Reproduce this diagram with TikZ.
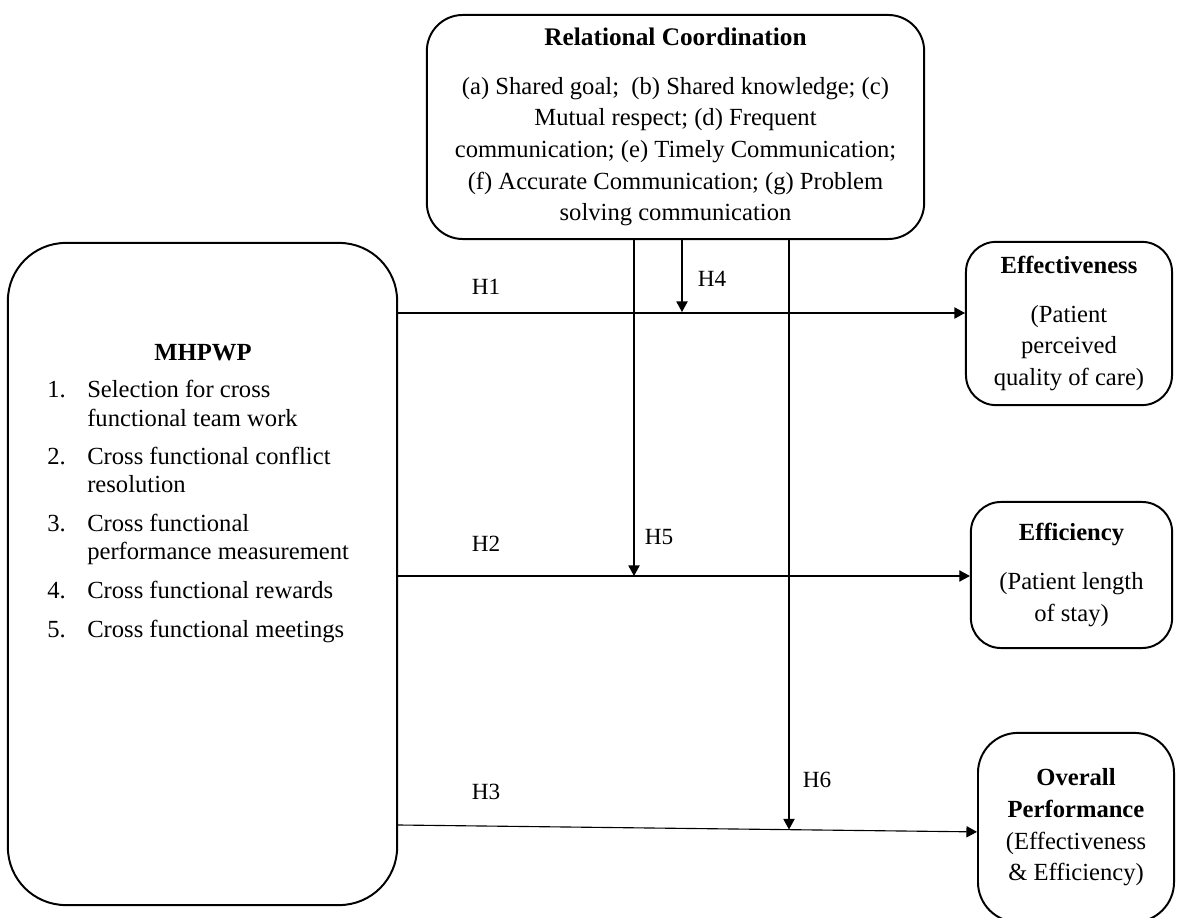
\documentclass[tikz,border=0pt]{standalone}
\usepackage{fontspec}
\setmainfont{Liberation Serif}
\usetikzlibrary{arrows.meta, positioning}
\newcommand{\mainsz}{\fontsize{17.5}{22.5}\selectfont}
\newcommand{\listsz}{\fontsize{17.5}{20}\selectfont}

\begin{document}
\begin{tikzpicture}[
    x=0.025cm, y=-0.025cm,
    box/.style={rectangle, draw, line width=1.4pt, rounded corners=#1, align=center, font=\mainsz},
    box/.default=0.8cm,
    arrow/.style={line width=0.8pt, -{Triangle[length=7.5pt, width=8pt]}},
    hyp/.style={font=\fontsize{16.5}{20}\selectfont}
]
    \useasboundingbox (0,0) rectangle (1178,918);

    % mediator on top
    \node [box=0.9cm, minimum width=12.43cm, minimum height=5.6cm] (rc) at (675.5,127) {{\fontsize{18}{22.5}\selectfont\textbf{Relational Coordination}}\\[12pt]
        (a) Shared goal;~ (b) Shared knowledge; (c)\\
        Mutual respect; (d) Frequent\\
        communication; (e) Timely Communication;\\
        (f) Accurate Communication; (g) Problem\\
        solving communication};

    % practices on the left
    \node [box=1.45cm, minimum width=9.73cm, minimum height=16.55cm] (mh) at (202.5,574) {};
    \node [font=\mainsz\bfseries] (mhtitle) at (203,353) {MHPWP};
    \node [anchor=base west, inner sep=0pt, font=\listsz] (mhlist) at (47,398) {%
        \begin{tabular}[t]{@{}p{1cm}@{}l@{}}
            1. & Selection for cross\\
               & functional team work\\[7.5pt]
            2. & Cross functional conflict\\
               & resolution\\[7.5pt]
            3. & Cross functional\\
               & performance measurement\\[7.5pt]
            4. & Cross functional rewards\\[7.5pt]
            5. & Cross functional meetings
        \end{tabular}};

    % outcomes on the right
    \node [box=0.75cm, minimum width=5.15cm, minimum height=4.08cm] (eff) at (1069,323.5) {\textbf{Effectiveness}\\[12pt]
        (Patient\\ perceived\\ quality of care)};
    \node [box=0.75cm, minimum width=5.03cm, minimum height=3.65cm] (effc) at (1071.5,575) {\textbf{Efficiency}\\[12pt]
        (Patient length\\ of stay)};
    \node [box=1cm, minimum width=4.9cm, minimum height=4.73cm] (perf) at (1076,827.5) {\textbf{Overall}\\ \textbf{Performance}\\
        (Effectiveness\\ \& Efficiency)};

    % direct paths
    \coordinate (s1) at (398,313);
    \coordinate (s2) at (398,576);
    \coordinate (s3) at (398,825);
    \draw [arrow] (s1) -- (s1 -| eff.west);
    \draw [arrow] (s2) -- (s2 -| effc.west);
    \draw [arrow] (s3) -- ([yshift=-0.11cm]perf.west);

    % moderating paths
    \coordinate (t4) at (682,312);
    \coordinate (t5) at (634,576);
    \coordinate (t6) at (789,829.5);
    \draw [arrow] (t4 |- rc.south) -- (t4);
    \draw [arrow] (t5 |- rc.south) -- (t5);
    \draw [arrow] (t6 |- rc.south) -- (t6);

    \node [hyp] (lh1) at (486,287) {H1};
    \node [hyp] (lh2) at (486,544) {H2};
    \node [hyp] (lh3) at (486,792) {H3};
    \node [hyp] (lh4) at (712,279) {H4};
    \node [hyp] (lh5) at (659,537) {H5};
    \node [hyp] (lh6) at (817,780) {H6};
\end{tikzpicture}
\end{document}
